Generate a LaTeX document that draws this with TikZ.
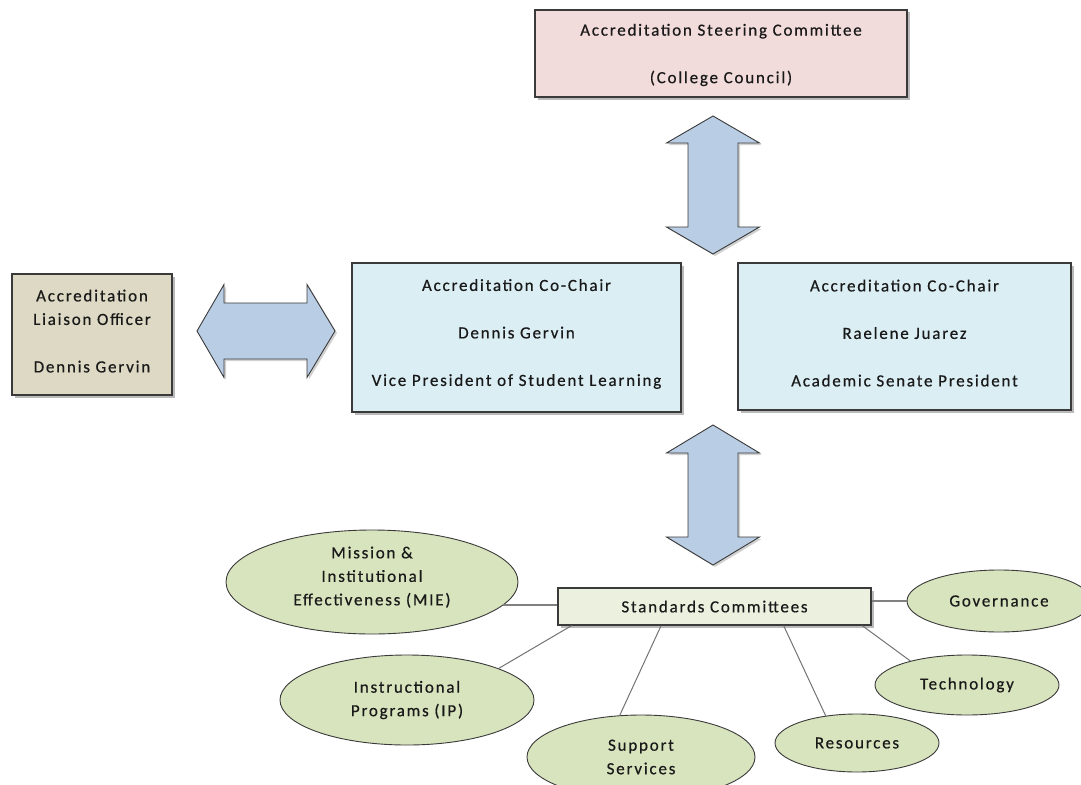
\documentclass[tikz,border=0pt]{standalone}
\usepackage{fontspec}
\setmainfont[LetterSpace=10.5,UprightFeatures={FakeBold=0.5}]{Carlito}
\usetikzlibrary{shadows,calc,shapes.geometric}
\definecolor{pinkfill}{HTML}{F2DCDB}
\definecolor{tanfill}{HTML}{DDD9C4}
\definecolor{bluefill}{HTML}{DAEEF3}
\definecolor{arrowfill}{HTML}{B9CDE5}
\definecolor{greenfill}{HTML}{D7E4BD}
\definecolor{scfill}{HTML}{EBF1DE}
\definecolor{edge}{HTML}{3A3A3A}
\begin{document}
\begin{tikzpicture}[x=1pt,y=-1pt,
  every node/.style={font=\fontsize{17}{23.5}\selectfont, text=black!90, inner sep=0pt, align=center},
  box/.style={draw=edge, line width=1.3pt, drop shadow={shadow xshift=2.5pt, shadow yshift=-2.5pt, opacity=0.45, fill=black!60}},
  oval/.style={ellipse, draw=edge, line width=0.9pt, fill=greenfill},
  blockarrow/.style={draw=edge, line width=0.9pt, fill=arrowfill, line join=miter, drop shadow={shadow xshift=2pt, shadow yshift=-2pt, opacity=0.3, fill=black!60}},
  link/.style={draw=black!55, line width=1pt},
  thicklink/.style={draw=black!50, line width=2.2pt}]
\useasboundingbox (0,0) rectangle (1081,784);

% boxes
\node[box, fill=pinkfill, minimum width=372, minimum height=87, text depth=0pt] (steer) at (721,53.5)
  {Accreditation Steering Committee\\[24pt](College Council)};
\node[box, fill=tanfill, minimum width=160, minimum height=121, text depth=7pt] (liaison) at (92,334.5)
  {Accreditation\\Liaison Officer\\[24pt]Dennis Gervin};
\node[box, fill=bluefill, minimum width=329, minimum height=149, text depth=10pt] (cochair1) at (516.5,337.5)
  {Accreditation Co-Chair\\[24pt]Dennis Gervin\\[24pt]Vice President of Student Learning};
\node[box, fill=bluefill, minimum width=333, minimum height=147, text depth=7pt] (cochair2) at (904.5,336.5)
  {Accreditation Co-Chair\\[24pt]Raelene Juarez\\[24pt]Academic Senate President};
\node[box, fill=scfill, minimum width=313, minimum height=37] (sc) at (714.5,606.5)
  {Standards Committees};

% block arrows
\path[blockarrow] (713,116) -- (759.5,143) -- (738,143) -- (738,227) -- (759.5,227) -- (713,254)
  -- (666.5,227) -- (688,227) -- (688,143) -- (666.5,143) -- cycle;
\path[blockarrow] (713,425) -- (759.5,453) -- (738,453) -- (738,537) -- (759.5,537) -- (713,565)
  -- (666.5,537) -- (688,537) -- (688,453) -- (666.5,453) -- cycle;
\path[blockarrow] (197,331) -- (224,284.5) -- (224,303) -- (307,303) -- (307,284.5) -- (335,331)
  -- (307,377.5) -- (307,359) -- (224,359) -- (224,377.5) -- cycle;

% ellipses
\node[oval, minimum width=292, minimum height=104, text depth=12pt] (mie) at (372,582)
  {Mission \&\\Institutional\\Effectiveness (MIE)};
\node[oval, minimum width=254, minimum height=90] (ip) at (407,700)
  {Instructional\\Programs (IP)};
\node[oval, minimum width=228, minimum height=84] (ss) at (641,757)
  {Support\\Services};
\node[oval, minimum width=164, minimum height=58] (res) at (857,743)
  {Resources};
\node[oval, minimum width=184, minimum height=60] (tech) at (967,685)
  {Technology};
\node[oval, minimum width=184, minimum height=62] (gov) at (999,601)
  {Governance};

% connectors
\draw[thicklink] (mie.-10) -- (mie.-10 -| sc.west);
\draw[thicklink] (sc.east |- gov.west) -- (gov.west);
\draw[link] ($(sc.south west)!0.045!(sc.south east)$) -- (ip.19);
\draw[link] ($(sc.south west)!0.33!(sc.south east)$) -- (ss.117);
\draw[link] ($(sc.south west)!0.72!(sc.south east)$) -- (res.139);
\draw[link] ($(sc.south west)!0.97!(sc.south east)$) -- (tech.157);
\end{tikzpicture}
\end{document}
